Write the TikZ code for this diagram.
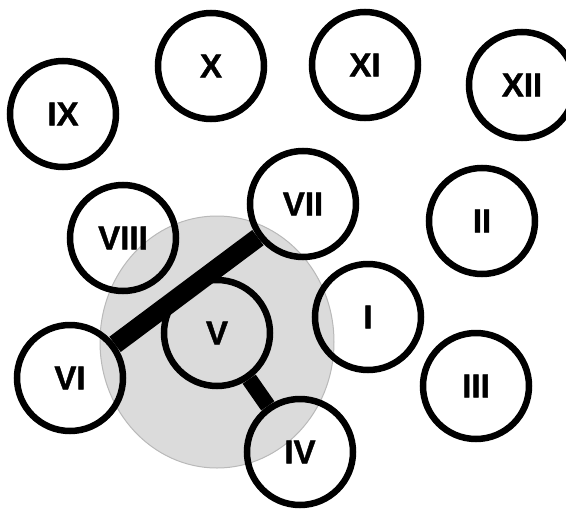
\documentclass[tikz,border=0pt]{standalone}
\usepackage{fontspec}
\setmainfont{Liberation Sans}[BoldFeatures={FakeBold=1.2}]
\begin{document}
\begin{tikzpicture}[x=1pt,y=-1pt,
  numc/.style={circle, draw=black, line width=6.5pt, minimum size=106pt, inner sep=0pt,
    font=\bfseries\fontsize{33}{38}\selectfont},
  barline/.style={line width=19pt, black}]
\useasboundingbox (0,0) rectangle (566,512);
\fill[gray!28, draw=gray!55, line width=1pt] (217,342) ellipse [x radius=117, y radius=126];
\node[numc] (IX) at (63,114) {IX};
\node[numc] (X) at (211,66) {X};
\node[numc] (XI) at (365,65) {XI};
\node[numc] (XII) at (522,85) {XII};
\node[numc] (VIII) at (123,238) {VIII};
\node[numc] (VII) at (303,204) {VII};
\node[numc] (II) at (482,221) {II};
\node[numc] (I) at (368,317) {I};
\node[numc] (V) at (217,333) {V};
\node[numc] (VI) at (70,378) {VI};
\node[numc] (III) at (476,386) {III};
\node[numc] (IV) at (300,452) {IV};
\draw[barline] (VI) -- (VII);
\draw[barline, line width=16pt] (V) -- (IV);
\end{tikzpicture}
\end{document}
